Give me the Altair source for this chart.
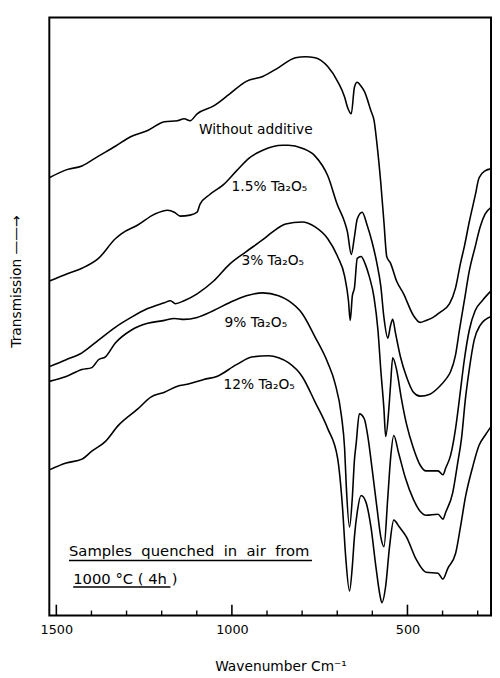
import altair as alt
import pandas as pd

# ---- IR transmission spectra (wavenumber cm-1, transmission in arbitrary units) ----
wn_none = [1520,1472,1427,1380,1332,1287,1240,1192,1155,1136,1119,1099,1052,1007,959,912,867,819,791,763,
           727,699,679,671,660,651,643,632,623,604,595,587,576,567,559,548,531,511,483,464,
           447,427,408,380,363,349,338,324,307,296,279,262]
t_none = [445,453,457,467,477,487,493,502,503,505,503,510,518,530,543,548,557,567,568,567,
          558,543,527,517,510,537,542,538,533,513,503,480,440,400,365,358,340,327,305,298,
          300,303,308,317,333,358,375,400,427,445,452,454]

wn_15 = [1520,1472,1427,1380,1332,1315,1268,1220,1183,1164,1147,1119,1099,1091,1063,1024,987,951,912,856,
         839,800,763,727,699,679,671,660,651,643,629,615,601,587,576,567,556,548,542,534,
         520,503,483,464,436,408,391,377,363,352,338,324,307,293,279,262]
t_15 = [340,347,353,363,383,388,397,408,412,410,406,407,410,418,428,438,452,465,473,478,
        478,475,467,447,417,400,390,367,385,403,410,397,380,358,335,303,282,295,301,287,
        263,243,227,223,225,233,240,248,265,290,320,350,375,395,408,415]

wn_3 = [1520,1472,1427,1380,1332,1287,1240,1192,1175,1161,1136,1099,1052,1007,959,912,884,847,800,763,
        727,699,679,668,663,657,651,643,632,621,609,595,584,576,567,562,553,548,542,531,
        517,503,483,464,447,413,399,391,377,363,352,338,324,307,287,262]
t_3 = [253,260,267,280,293,303,312,318,320,317,320,327,340,357,370,382,390,398,400,395,
       383,365,345,320,300,325,333,363,365,358,345,323,290,250,210,182,210,235,262,250,
       220,195,170,153,147,147,143,150,163,190,220,260,290,310,320,330]

wn_9 = [1520,1472,1427,1399,1380,1360,1332,1287,1240,1192,1164,1136,1099,1052,1007,959,912,867,839,800,
        763,727,707,688,679,674,665,657,651,646,637,623,612,601,587,576,567,556,548,539,
        525,506,483,464,447,413,399,391,371,357,346,335,324,310,293,262]
t_9 = [238,243,250,252,260,263,277,290,297,300,302,301,303,310,318,325,328,325,320,307,
       283,257,237,203,170,130,90,120,158,175,205,200,180,150,110,80,70,120,160,183,
       165,140,118,106,102,103,98,105,125,155,180,220,250,280,295,304]

wn_12 = [1520,1472,1427,1399,1360,1324,1268,1231,1192,1155,1127,1080,1043,987,940,895,867,839,800,763,
         727,699,685,676,665,657,651,643,632,618,604,590,578,573,562,551,539,523,503,475,
         447,413,399,385,363,349,335,315,296,279,262]
t_12 = [148,155,159,167,177,193,210,222,227,233,235,240,243,255,263,264,262,257,243,217,
        190,160,110,60,25,50,80,105,122,115,90,50,20,13,30,70,97,90,80,57,
        44,43,37,48,63,90,120,150,173,183,192]

series_names = ["Without additive", "1.5% Ta₂O₅", "3% Ta₂O₅", "9% Ta₂O₅", "12% Ta₂O₅"]
series_wn = [wn_none, wn_15, wn_3, wn_9, wn_12]
series_t = [t_none, t_15, t_3, t_9, t_12]

# curve labels (anchor: left end of text, baseline)
label_wn = [1094, 1001, 973, 1021, 1024]
label_t = [489, 432, 356, 293, 230]

note_lines = ["Samples\u00a0 quenched\u00a0 in\u00a0 air\u00a0 from", "1000 °C ( 4h )"]
note_wn = [1464, 1452]
note_t = [61, 32]
underline_wn2 = [772, 1175]
underline_t = [56, 29]

major_ticks = [1500, 1000, 500]
minor_ticks = [1400, 1300, 1200, 1100, 900, 800, 700, 600, 400, 300]

# ---- tables ----
rows = []
for name, wns, ts in zip(series_names, series_wn, series_t):
    for w, v in zip(wns, ts):
        rows.append({"series": name, "wn": w, "T": v})
df = pd.DataFrame(rows)

df_labels = pd.DataFrame({"label": series_names, "wn": label_wn, "T": label_t})
df_notes = pd.DataFrame({"label": note_lines, "wn": note_wn, "T": note_t,
                         "wn2": underline_wn2, "Tu": underline_t})

FONT = "DejaVu Sans"
x_scale = alt.Scale(domain=[262, 1520], reverse=True, nice=False, zero=False)
y_scale = alt.Scale(domain=[0, 608], nice=False, zero=False)

x_axis = alt.Axis(values=major_ticks, ticks=False, domain=False, grid=False,
                  labelFont=FONT, labelFontSize=13, labelColor="black", labelPadding=8,
                  labelFlush=False, format="d",
                  title="Wavenumber Cm⁻¹", titleFont=FONT, titleFontSize=14,
                  titleFontWeight="normal", titleColor="black",
                  titleX=235, titleY=45, titleAlign="center", titleBaseline="top")
y_axis = alt.Axis(ticks=False, labels=False, domain=False, grid=False,
                  title="Transmission ——→", titleFont=FONT, titleFontSize=14,
                  titleFontWeight="normal", titleColor="black",
                  titleAngle=270, titleX=-33, titleY=268, titleAlign="center",
                  titleBaseline="middle")

x_enc = alt.X("wn:Q", scale=x_scale, axis=x_axis)
y_enc = alt.Y("T:Q", scale=y_scale, axis=y_axis)

lines = alt.Chart(df).mark_line(color="black", strokeWidth=1.6, interpolate="monotone").encode(
    x=x_enc, y=y_enc, detail="series:N"
)

labels = alt.Chart(df_labels).mark_text(
    align="left", baseline="alphabetic", font=FONT, fontSize=14, color="black"
).encode(x=x_enc, y=y_enc, text="label:N")

notes = alt.Chart(df_notes).mark_text(
    align="left", baseline="alphabetic", font=FONT, fontSize=15, color="black"
).encode(x=x_enc, y=y_enc, text="label:N")

underlines = alt.Chart(df_notes).mark_rule(color="black", strokeWidth=1.5).encode(
    x=x_enc, x2="wn2:Q", y=alt.Y("Tu:Q", scale=y_scale, axis=y_axis)
)

major = alt.Chart(pd.DataFrame({"wn": major_ticks})).mark_rule(color="black", strokeWidth=1.6).encode(
    x=x_enc, y=alt.value(608), y2=alt.value(597)
)
minor = alt.Chart(pd.DataFrame({"wn": minor_ticks})).mark_rule(color="black", strokeWidth=1.4).encode(
    x=x_enc, y=alt.value(608), y2=alt.value(603)
)

chart = alt.layer(lines, labels, notes, underlines, major, minor).properties(
    width=449, height=608,
    padding={"left": 42, "top": 4, "right": 1, "bottom": 60},
    autosize=alt.AutoSizeParams(type="none"),
    background="white",
).configure_view(stroke="black", strokeWidth=2)

chart.save("out.html", embed_options={"renderer": "svg", "actions": False})
